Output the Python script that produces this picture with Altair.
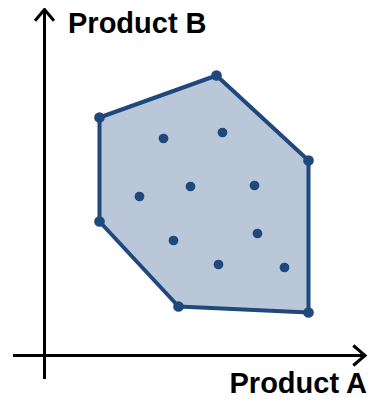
import altair as alt
import pandas as pd

# Hull vertices (Product A, Product B), in drawing order
hull_a = [5.5, 17.2, 26.4, 26.4, 13.4, 5.5]
hull_b = [23.8, 28.0, 19.5, 4.3, 4.9, 13.4]

# Interior points
pts_a = [11.9, 17.8, 9.5, 14.6, 21.0, 12.9, 21.3, 17.4, 24.0]
pts_b = [21.7, 22.3, 15.9, 16.9, 17.0, 11.5, 12.2, 9.1, 8.8]

# Axis extents (arrow axes)
x_axis_a = [-3.15, 32.05]
y_axis_b = [-2.35, 34.6]

labels = ["Product A", "Product B"]

DARK = "#1f497d"
FILL = "#bac7d9"

xs = alt.Scale(domain=[-3.65, 32.35], nice=False, zero=False)
ys = alt.Scale(domain=[-4.45, 34.75], nice=False, zero=False)

hull_df = pd.DataFrame({"A": hull_a, "B": hull_b, "i": list(range(len(hull_a)))})
pts_df = pd.DataFrame({"A": pts_a, "B": pts_b})

X = lambda: alt.X("A:Q", scale=xs, axis=None)
Y = lambda: alt.Y("B:Q", scale=ys, axis=None)

hull = alt.Chart(hull_df).mark_line(
    interpolate="linear-closed", fill=FILL, stroke=DARK, strokeWidth=4, strokeJoin="round"
).encode(x=X(), y=Y(), order="i:Q")

hull_pts = alt.Chart(hull_df).mark_circle(size=115, color=DARK, opacity=1).encode(x=X(), y=Y())
inner_pts = alt.Chart(pts_df).mark_circle(size=95, color=DARK, opacity=1).encode(x=X(), y=Y())

# axes lines
xaxis_df = pd.DataFrame({"A": [x_axis_a[0]], "A2": [x_axis_a[1]], "B": [0.0]})
yaxis_df = pd.DataFrame({"A": [0.0], "B": [y_axis_b[0]], "B2": [y_axis_b[1]]})
xaxis = alt.Chart(xaxis_df).mark_rule(color="black", strokeWidth=3).encode(
    x=X(), x2="A2:Q", y=Y())
yaxis = alt.Chart(yaxis_df).mark_rule(color="black", strokeWidth=3).encode(
    x=X(), y=Y(), y2="B2:Q")

# arrow heads
arrow_df = pd.DataFrame({
    "A": [x_axis_a[1] - 1.17, x_axis_a[1], x_axis_a[1] - 1.17,
          -0.95, 0.0, 0.95],
    "B": [1.0, 0.0, -1.0,
          y_axis_b[1] - 1.13, y_axis_b[1], y_axis_b[1] - 1.13],
    "g": ["x", "x", "x", "y", "y", "y"],
    "o": [0, 1, 2, 0, 1, 2],
})
arrows = alt.Chart(arrow_df).mark_line(color="black", strokeWidth=3, strokeJoin="miter").encode(
    x=X(), y=Y(), detail="g:N", order="o:Q")

font = dict(font="Liberation Sans", fontWeight="bold", fontSize=29, color="black")
lab_a = alt.Chart(pd.DataFrame({"A": [32.25], "B": [-3.75], "t": [labels[0]]})).mark_text(
    align="right", baseline="alphabetic", **font).encode(x=X(), y=Y(), text="t:N")
lab_b = alt.Chart(pd.DataFrame({"A": [2.35], "B": [32.25], "t": [labels[1]]})).mark_text(
    align="left", baseline="alphabetic", **font).encode(x=X(), y=Y(), text="t:N")

chart = alt.layer(hull, hull_pts, inner_pts, xaxis, yaxis, arrows, lab_a, lab_b).properties(
    width=360, height=392, padding=0, autosize=alt.AutoSizeParams(type="none")
).configure_view(stroke=None)

chart.save("out.html", embed_options={"renderer": "svg", "actions": False})
